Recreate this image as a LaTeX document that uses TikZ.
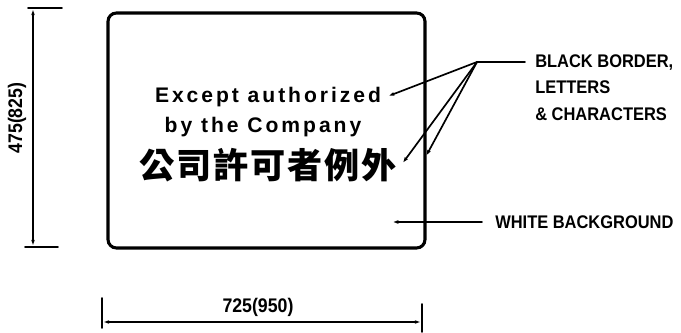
\documentclass[tikz,border=0pt]{standalone}
\usepackage{fontspec}
\setmainfont{Liberation Sans}
\newfontfamily\cjkfont[LetterSpace=5]{Noto Sans CJK TC}
\newfontfamily\signfont[LetterSpace=14]{Liberation Sans Bold}
\newfontfamily\notefont[FakeStretch=0.9]{Liberation Sans Bold}
\usetikzlibrary{arrows.meta}

\begin{document}
\begin{tikzpicture}[x=0.025cm, y=-0.025cm, line cap=round,
  dimline/.style={line width=1.1pt, {Latex[length=5pt,width=2.5pt]}-{Latex[length=5pt,width=2.5pt]}},
  leader/.style={line width=1.2pt, -{Latex[length=6pt,width=2.6pt]}},
  tick/.style={line width=1.1pt},
  note/.style={font=\notefont\fontsize{13}{19}\selectfont, align=left, inner sep=0pt},
  dimtext/.style={font=\notefont\fontsize{14}{15}\selectfont}]

\useasboundingbox (0,0) rectangle (681,333);

% the sign with its black border
\draw[line width=2.2pt, rounded corners=6] (108,13) rectangle (425,248);
\coordinate (signedge) at (425,158);

\node (line1) at (268,97) [font=\signfont\fontsize{15}{16}\selectfont] {Except authorized};
\node (line2) at (263,127) [font=\signfont\fontsize{15}{16}\selectfont] {by the Company};
\node (chinese) at (268,165) [font=\cjkfont\bfseries\fontsize{25}{27}\selectfont] {公司許可者例外};

% notes on the right
\node (blacknote) at (535,54) [note, anchor=north west] {BLACK BORDER,\\LETTERS\\\& CHARACTERS};
\coordinate (blacktail) at (525,62);
\coordinate (fork) at (477,62);
\draw[line width=1.2pt] (blacktail) -- (fork);
\draw[leader] (fork) -- (line1.east);
\draw[leader] (fork) -- (chinese.east);
\draw[leader] (fork) -- (signedge);

\node (whitenote) at (495,222) [note, anchor=west] {WHITE BACKGROUND};
\coordinate (whitetip) at (390,222);
\draw[leader] ([xshift=-13*0.025cm]whitenote.west) -- (whitetip);

% height of the sign
\coordinate (htop) at (33,8);
\coordinate (hbot) at (33,247);
\draw[tick] (28,8) -- (62,8);
\draw[tick] (25,247) -- (58,247);
\draw[dimline] (htop) -- (hbot);
\node (height) at (17,118) [dimtext, rotate=90] {475(825)};

% width of the sign
\coordinate (wleft) at (102,322);
\coordinate (wright) at (422,322);
\draw[tick] (102,298) -- (102,328);
\draw[tick] (422,304) -- (422,332);
\draw[dimline] (wleft) -- (wright);
\node (width) at (258,307) [dimtext] {725(950)};

\end{tikzpicture}
\end{document}
